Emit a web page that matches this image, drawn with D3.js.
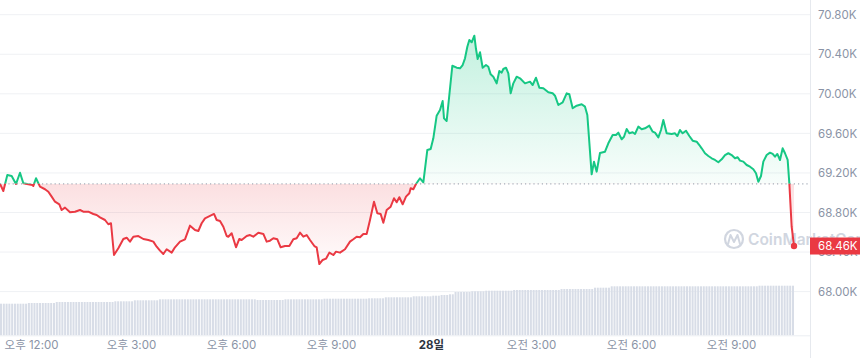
<!DOCTYPE html>
<html><head><meta charset="utf-8">
<script src="https://cdn.jsdelivr.net/npm/d3@7/dist/d3.min.js"></script>
<style>
html,body{margin:0;padding:0;background:#fff;}
svg{display:block;font-family:Inter,"Noto Sans CJK KR",sans-serif;}
</style></head>
<body><svg id="chart" width="860" height="358"></svg>
<script>
// ---- DATA (time in hours from 27일 00:00, price in K USD) ----
const times = [11.07,11.17,11.29,11.42,11.55,11.67,11.77,11.92,12.04,12.07,12.15,12.27,12.42,12.52,12.62,12.72,12.85,12.92,13.02,13.17,13.32,13.47,13.57,13.72,13.87,13.97,14.07,14.22,14.32,14.40,14.49,14.62,14.77,14.87,14.97,15.07,15.22,15.37,15.52,15.67,15.77,15.87,15.97,16.07,16.22,16.32,16.47,16.62,16.77,16.92,17.02,17.12,
17.22,17.37,17.49,17.57,17.67,17.77,17.87,17.92,18.02,18.15,18.25,18.32,18.47,18.57,18.67,18.82,18.97,19.07,19.17,19.27,19.39,19.49,19.62,19.75,19.87,19.97,20.07,20.17,20.27,20.37,20.50,20.57,20.65,20.75,20.85,20.95,21.07,21.15,21.27,21.42,21.57,21.67,21.77,21.87,21.97,22.07,22.17,22.29,22.39,22.49,22.57,22.67,22.79,22.89,22.97,23.05,23.15,23.25,23.35,23.39,23.47,23.55,23.67,
23.77,23.89,23.99,24.07,24.17,24.27,24.35,24.39,24.47,24.64,24.77,24.87,24.95,25.02,25.09,25.15,25.22,25.30,25.35,25.40,25.47,25.55,25.65,25.72,25.79,25.87,25.97,26.05,26.12,26.17,26.25,26.32,26.39,26.47,26.57,26.67,26.82,26.97,27.05,27.15,27.25,27.37,27.52,27.65,27.72,27.82,27.95,28.07,28.15,28.25,28.37,28.52,28.62,28.69,28.82,28.89,28.97,29.07,
29.22,29.32,29.45,29.55,29.62,29.72,29.79,29.87,29.95,30.05,30.12,30.22,30.32,30.42,30.55,30.65,30.72,30.82,30.90,30.97,31.07,31.22,31.32,31.39,31.47,31.55,31.65,31.75,31.85,31.97,32.05,32.12,32.22,32.32,32.42,32.52,32.62,32.72,32.82,32.92,33.02,33.12,33.20,33.27,33.37,33.47,33.57,33.67,33.75,33.82,33.90,33.97,34.07,34.17,34.25,34.32,34.39,34.47,34.55,34.62,34.70,34.75,34.82,34.89];

const prices = [69.088,69.017,69.179,69.169,69.088,69.202,69.095,69.085,69.078,69.068,69.146,69.061,69.035,69.010,68.960,68.909,68.883,68.825,68.849,68.802,68.808,68.825,68.808,68.808,68.785,68.775,68.751,68.724,68.681,68.691,68.370,68.438,68.532,68.545,68.505,68.555,68.562,68.532,68.522,68.505,68.454,68.414,68.380,68.428,68.394,68.448,68.505,68.529,68.667,68.623,68.613,68.691,
68.741,68.765,68.785,68.724,68.714,68.656,68.562,68.555,68.590,68.448,68.532,68.522,68.562,68.572,68.555,68.596,68.583,68.505,68.515,68.539,68.529,68.448,68.461,68.461,68.529,68.539,68.596,68.555,68.572,68.522,68.461,68.448,68.279,68.320,68.333,68.394,68.370,68.404,68.394,68.428,68.505,68.529,68.555,68.549,68.583,68.583,68.724,68.909,68.792,68.785,68.697,68.825,68.859,68.944,68.903,68.954,68.883,68.960,68.994,69.045,69.035,69.088,69.146,
69.105,69.432,69.442,69.550,69.779,69.836,69.927,69.752,69.725,70.284,70.264,70.258,70.291,70.359,70.476,70.544,70.521,70.588,70.453,70.352,70.420,70.264,70.291,70.274,70.197,70.173,70.106,70.231,70.214,70.251,70.264,70.207,70.005,70.106,70.173,70.157,70.106,70.123,70.089,70.163,70.062,70.056,70.015,70.005,69.981,69.887,69.914,70.005,69.995,69.854,69.880,69.894,69.870,69.786,69.186,69.314,69.213,69.402,
69.415,69.500,69.584,69.584,69.607,69.540,69.566,69.644,69.601,69.611,69.594,69.668,69.641,69.651,69.678,69.617,69.607,69.560,69.634,69.735,69.601,69.594,69.601,69.573,69.634,69.601,69.627,69.573,69.526,69.516,69.482,69.449,69.399,69.371,69.348,69.331,69.308,69.338,69.381,69.399,69.381,69.348,69.358,69.324,69.314,69.280,69.263,69.237,69.196,69.111,69.169,69.314,69.381,69.405,69.392,69.364,69.392,69.331,69.449,69.399,69.331,69.095,68.656,68.461];

const openPrice = 69.09;
const lastPriceLabel = "68.46K";

// 24h volume (billions USD), one per 5-minute bar
const volumes = [
31.6,31.6,31.6,31.6,31.6,31.6,31.6,31.6,31.6,31.6,
32.3,32.3,32.3,32.3,32.3,32.3,32.3,32.3,32.3,32.3,
33.3,33.3,33.3,33.3,33.3,33.3,33.3,33.3,33.3,33.3,33.3,33.3,33.3,33.3,33.3,33.3,33.3,33.3,33.3,33.3,33.3,
34.0,34.0,34.0,34.0,34.0,34.0,34.0,
35.0,35.0,35.0,35.0,35.0,35.0,35.0,35.0,35.0,
36.0,36.0,36.0,36.0,36.0,36.0,36.0,36.0,36.0,36.0,36.0,36.0,36.0,36.0,36.0,36.0,36.0,36.0,36.0,36.0,36.0,36.0,36.0,36.0,36.0,36.0,36.0,36.0,36.0,36.0,36.0,36.0,36.0,36.0,36.0,
35.3,35.3,35.3,35.3,35.3,35.3,35.3,35.3,35.3,35.3,
36.0,36.0,36.0,36.0,36.0,36.0,36.0,36.0,36.0,36.0,36.0,36.0,36.0,36.0,
36.6,36.6,36.6,36.6,36.6,36.6,36.6,36.6,36.6,36.6,36.6,36.6,36.6,36.6,36.6,36.6,
37.0,37.0,37.0,37.0,37.0,37.0,
38.0,38.0,38.0,38.0,38.0,38.0,38.0,38.0,38.0,38.0,
39.0,39.0,39.0,39.0,39.0,39.0,39.0,
39.6,39.6,39.6,
40.3,40.3,40.3,
41.0,41.0,
43.3,43.3,43.3,43.3,43.3,43.3,
44.0,44.0,44.0,44.0,44.0,
44.6,44.6,44.6,44.6,44.6,44.6,44.6,44.6,44.6,44.6,
45.3,45.3,45.3,45.3,45.3,45.3,45.3,45.3,45.3,45.3,45.3,45.3,45.3,45.3,45.3,45.3,45.3,
46.3,46.3,46.3,46.3,46.3,46.3,46.3,46.3,46.3,46.3,46.3,46.3,
47.6,47.6,47.6,47.6,47.6,47.6,
49.0,49.0,49.0,49.0,49.0,49.0,49.0,49.0,49.0,49.0,49.0,49.0,49.0,49.0,49.0,49.0,49.0,49.0,49.0,49.0,49.0,49.0,49.0,49.0,49.0,49.0,49.0,49.0,49.0,49.0,49.0,49.0,49.0,49.0,49.0,49.0,49.0,49.0,49.0,49.0,49.0,49.0,49.0,49.0,49.0,49.0,49.0,49.0,49.0,49.0,49.0,49.0,49.0,
49.6,49.6,49.6,49.6,49.6,49.6,49.6,49.6,49.6,49.6,49.6,49.6,49.6];

const yTickValues = [68.0,68.4,68.8,69.2,69.6,70.0,70.4,70.8];
const yTickLabels = ["68.00K","68.40K","68.80K","69.20K","69.60K","70.00K","70.40K","70.80K"];
const xTickValues = [12,15,18,21,24,27,30,33];
const xTickLabels = ["오후 12:00","오후 3:00","오후 6:00","오후 9:00","28일","오전 3:00","오전 6:00","오전 9:00"];

// ---- LAYOUT ----
const W = 860, H = 358;
const plotRight = 810;
const svg = d3.select("#chart");

const x = d3.scaleLinear().domain([12, 33]).range([31, 731]);
const y = d3.scaleLinear().domain([68.0, 70.8]).range([291.6, 14.7]);
const yVol = d3.scaleLinear().domain([0, 50]).range([335.3, 285.3]);
const xVol = d3.scaleBand().domain(d3.range(volumes.length))
  .range([x(times[0]), x(times[times.length-1])]).paddingInner(0.28);

const data = d3.zip(times, prices).map(([t,p]) => ({t, p}));
const baseY = y(openPrice);

const defs = svg.append("defs");
defs.append("clipPath").attr("id","clipAbove").append("rect")
  .attr("x",0).attr("y",0).attr("width",plotRight).attr("height",baseY);
defs.append("clipPath").attr("id","clipBelow").append("rect")
  .attr("x",0).attr("y",baseY).attr("width",plotRight).attr("height",H-baseY);

const gGreen = defs.append("linearGradient").attr("id","gGreen")
  .attr("gradientUnits","userSpaceOnUse").attr("x1",0).attr("x2",0)
  .attr("y1", y(70.6)).attr("y2", baseY);
gGreen.append("stop").attr("offset","0%").attr("stop-color","#16c784").attr("stop-opacity",0.26);
gGreen.append("stop").attr("offset","100%").attr("stop-color","#16c784").attr("stop-opacity",0.03);

const gRed = defs.append("linearGradient").attr("id","gRed")
  .attr("gradientUnits","userSpaceOnUse").attr("x1",0).attr("x2",0)
  .attr("y1", baseY).attr("y2", y(68.28));
gRed.append("stop").attr("offset","0%").attr("stop-color","#ea3943").attr("stop-opacity",0.16);
gRed.append("stop").attr("offset","100%").attr("stop-color","#ea3943").attr("stop-opacity",0.02);

// grid
svg.append("g").selectAll("line").data(yTickValues).join("line")
  .attr("x1",0).attr("x2",plotRight)
  .attr("y1",d=>y(d)).attr("y2",d=>y(d))
  .attr("stroke","#eff1f4").attr("stroke-width",1);

// volume bars
svg.append("g").selectAll("rect").data(volumes).join("rect")
  .attr("x",(d,i)=>xVol(i)).attr("width",xVol.bandwidth())
  .attr("y",d=>yVol(d)).attr("height",d=>yVol(0)-yVol(d))
  .attr("fill","#d8dde7");

// bottom line
svg.append("line").attr("x1",0).attr("x2",plotRight)
  .attr("y1",yVol(0)+0.5).attr("y2",yVol(0)+0.5)
  .attr("stroke","#eceef2");

// areas
const area = d3.area().x(d=>x(d.t)).y0(baseY).y1(d=>y(d.p));
svg.append("path").datum(data).attr("d",area).attr("fill","url(#gGreen)").attr("clip-path","url(#clipAbove)");
svg.append("path").datum(data).attr("d",area).attr("fill","url(#gRed)").attr("clip-path","url(#clipBelow)");

// baseline dotted
svg.append("line").attr("x1",0).attr("x2",plotRight)
  .attr("y1",baseY).attr("y2",baseY)
  .attr("stroke","#a6adb9").attr("stroke-width",1.2).attr("stroke-dasharray","1.2,3");

// watermark
const wm = svg.append("g").attr("opacity",0.75);
wm.append("circle").attr("cx",734).attr("cy",239).attr("r",9)
  .attr("fill","none").attr("stroke","#c2c9d6").attr("stroke-width",2.2);
wm.append("path").attr("d","M728,244 L730.5,235 L734,242 L737.5,235 L740,244")
  .attr("fill","none").attr("stroke","#c2c9d6").attr("stroke-width",2).attr("stroke-linejoin","round").attr("stroke-linecap","round");
wm.append("text").attr("x",748).attr("y",245).attr("font-size",15.5).attr("font-weight",600)
  .attr("fill","#c2c9d6").text("CoinMarketCap");

// line
const line = d3.line().x(d=>x(d.t)).y(d=>y(d.p));
svg.append("path").datum(data).attr("d",line).attr("fill","none")
  .attr("stroke","#16c784").attr("stroke-width",2).attr("stroke-linejoin","round").attr("clip-path","url(#clipAbove)");
svg.append("path").datum(data).attr("d",line).attr("fill","none")
  .attr("stroke","#ea3943").attr("stroke-width",2).attr("stroke-linejoin","round").attr("clip-path","url(#clipBelow)");

const last = data[data.length-1];
svg.append("circle").attr("cx",x(last.t)).attr("cy",y(last.p)).attr("r",3.2).attr("fill","#ea3943");

// right axis border
svg.append("line").attr("x1",plotRight+0.5).attr("x2",plotRight+0.5).attr("y1",0).attr("y2",H)
  .attr("stroke","#e6e9ee");

// y labels
const yAxis = d3.axisRight(y).tickValues(yTickValues).tickSize(0).tickPadding(8)
  .tickFormat((d,i)=>yTickLabels[i]);
const ya = svg.append("g").attr("transform",`translate(${plotRight},0)`).call(yAxis);
ya.select(".domain").remove();
ya.selectAll("text").attr("font-size",11.5).attr("fill","#8a93a5").attr("font-family",'Inter,"Noto Sans CJK KR",sans-serif');

// price tag
const tagY = y(last.p);
svg.append("rect").attr("x",plotRight).attr("y",tagY-8.5).attr("width",W-plotRight).attr("height",17).attr("fill","#ea3943");
svg.append("text").attr("x",plotRight+8).attr("y",tagY).attr("dy","0.35em")
  .attr("font-size",11.5).attr("fill","#fff").text(lastPriceLabel);

// x labels
const xAxis = d3.axisBottom(x).tickValues(xTickValues).tickSize(0).tickPadding(0)
  .tickFormat((d,i)=>xTickLabels[i]);
const xa = svg.append("g").attr("transform",`translate(0,341)`).call(xAxis);
xa.select(".domain").remove();
xa.selectAll("text").attr("font-size",11.5).attr("fill","#8a93a5").attr("font-family",'Inter,"Noto Sans CJK KR",sans-serif')
  .attr("font-weight",(d,i)=>xTickLabels[i]==="28일"?700:400)
  .attr("fill",(d,i)=>xTickLabels[i]==="28일"?"#2c3340":"#8a93a5");
</script></body></html>
